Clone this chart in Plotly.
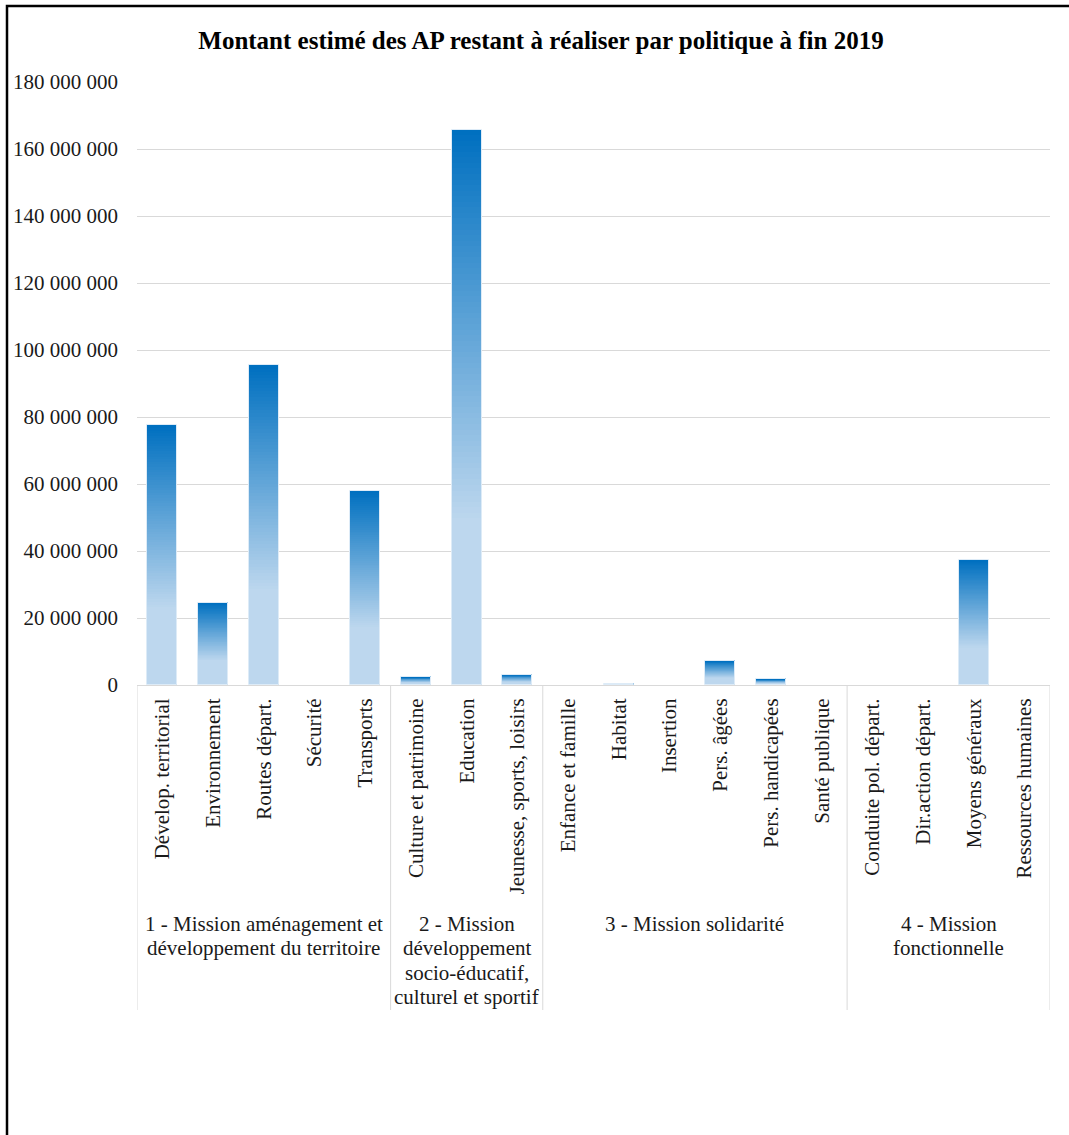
import plotly.graph_objects as go

# ---------------- data ----------------
categories = [
    "Dévelop. territorial", "Environnement", "Routes départ.", "Sécurité", "Transports",
    "Culture et patrimoine", "Education", "Jeunesse, sports, loisirs",
    "Enfance et famille", "Habitat", "Insertion", "Pers. âgées", "Pers. handicapées", "Santé publique",
    "Conduite pol. départ.", "Dir.action départ.", "Moyens généraux", "Ressources humaines",
]
values = [
    77.5e6, 24.5e6, 95.4e6, 0, 58.0e6,
    2.4e6, 165.8e6, 3.1e6,
    0, 0.4e6, 0, 7.2e6, 1.8e6, 0,
    0, 0, 37.3e6, 0,
]
group_lines = [
    ["1 - Mission aménagement et", "développement du territoire"],
    ["2 - Mission", "développement", "socio-éducatif,", "culturel et sportif"],
    ["3 - Mission solidarité"],
    ["4 - Mission", "fonctionnelle"],
]
group_sizes = [5, 3, 6, 4]
y_ticks = [0, 20e6, 40e6, 60e6, 80e6, 100e6, 120e6, 140e6, 160e6, 180e6]
title = "Montant estimé des AP restant à réaliser par politique à fin 2019"

# ---------------- style ----------------
W, H = 1069, 1135
ML, MR, MT, MB = 137, 19, 82, 450
PW, PH = W - ML - MR, H - MT - MB
FONT = "Liberation Serif, Times New Roman, serif"
LIGHT = (189, 215, 238)
DARK = (0, 112, 192)
GRID = "#d9d9d9"
TXT = "#1a1a1a"
BAR_W = 0.59

x = list(range(len(categories)))
fig = go.Figure()

# gradient bars: light for the lower 30 %, then linear to dark at the top
N = 70
start = 0.30
for k in range(N + 1):
    if k == 0:
        f, t = 0.0, 0.0
    else:
        f = start + (1 - start) * (k - 1) / N
        t = k / N
    col = tuple(round(LIGHT[i] + (DARK[i] - LIGHT[i]) * t) for i in range(3))
    fig.add_trace(go.Bar(
        x=x,
        y=[v * (1 - f) if v > 0 else None for v in values],
        base=[v * f for v in values],
        width=BAR_W,
        marker=dict(color="rgb(%d,%d,%d)" % col, line=dict(width=0)),
        showlegend=False, hoverinfo="skip",
    ))
# thin light outline
fig.add_trace(go.Bar(
    x=x, y=[v if v > 0 else None for v in values], base=[0] * len(values), width=BAR_W,
    marker=dict(color="rgba(0,0,0,0)", line=dict(width=1, color="#DDEBF7")),
    showlegend=False, hovertemplate="%{y:,.0f}<extra></extra>",
))

def py(px):  # pixel y -> paper y
    return (H - MB - px) / PH

def pxp(px):  # pixel x -> paper x
    return (px - ML) / PW

bounds = [-0.5]
for s in group_sizes:
    bounds.append(bounds[-1] + s)
shapes = []
for b in bounds:
    shapes.append(dict(type="line", xref="x", yref="paper", x0=b, x1=b,
                       y0=0, y1=py(1010), line=dict(color=GRID, width=1)))
annotations = []
LINE_H = 24.3
for i, lines in enumerate(group_lines):
    cx = (bounds[i] + bounds[i + 1]) / 2
    for j, ln in enumerate(lines):
        annotations.append(dict(xref="x", yref="paper", x=cx, y=py(924 + j * LINE_H),
                                yanchor="middle", xanchor="center", text=ln, showarrow=False,
                                font=dict(family=FONT, size=21, color=TXT)))

# black frame (top and left edges visible)
shapes.append(dict(type="rect", xref="paper", yref="paper", x0=pxp(7), x1=pxp(1120),
                   y0=py(1200), y1=py(6), line=dict(color="black", width=2.5),
                   fillcolor="rgba(0,0,0,0)", layer="above"))

fig.update_layout(
    width=W, height=H,
    margin=dict(l=ML, r=MR, t=MT, b=MB),
    paper_bgcolor="white", plot_bgcolor="white",
    barmode="overlay", bargap=0,
    separators=", ",
    font=dict(family=FONT, size=21, color=TXT),
    title=dict(text="<b>" + title + "</b>", x=541 / W, xanchor="center", xref="container",
               y=1 - 40 / H, yanchor="middle", yref="container",
               font=dict(family=FONT, size=25, color="black")),
    shapes=shapes, annotations=annotations,
    xaxis=dict(
        range=[-0.5, len(categories) - 0.5],
        tickmode="array", tickvals=x, ticktext=categories,
        tickangle=-90, ticks="", showgrid=False,
        showline=True, linecolor=GRID, linewidth=1,
        ticklabelstandoff=4,
        tickfont=dict(family=FONT, size=21, color=TXT),
        zeroline=False,
    ),
    yaxis=dict(
        range=[0, 180e6], tickmode="array", tickvals=y_ticks,
        tickformat=",d", showgrid=True, gridcolor=GRID, gridwidth=1,
        zeroline=False, showline=False, ticks="",
        ticklabelstandoff=18,
        tickfont=dict(family=FONT, size=21, color=TXT),
    ),
)

fig.write_html("out.html", config={"displayModeBar": False},
               post_script="document.body.style.margin='0';")
